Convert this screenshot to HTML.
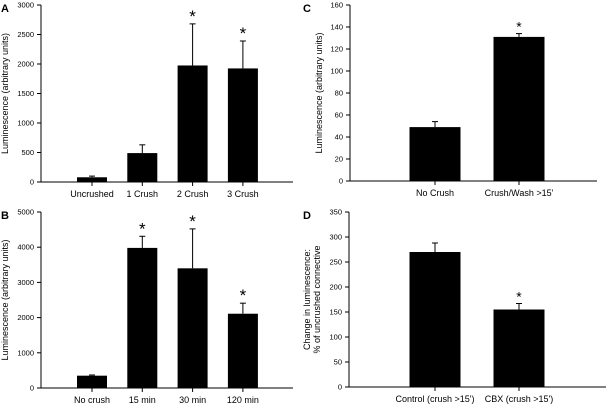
<!DOCTYPE html>
<html><head><meta charset="utf-8"><style>
html,body{margin:0;padding:0;background:#fff}
svg{display:block;font-family:"Liberation Sans",Arial,sans-serif}
</style></head><body>
<svg id="fig" width="608" height="412" viewBox="0 0 608 412" xmlns="http://www.w3.org/2000/svg"></svg>
<script>
// Panel A
const catsA = ["Uncrushed","1 Crush","2 Crush","3 Crush"];
const valsA = [80, 490, 1975, 1925];
const errA = [100, 630, 2680, 2390];
const sigA = [false,false,true,true];
const ticksA = [0,500,1000,1500,2000,2500,3000];
// Panel B
const catsB = ["No crush","15 min","30 min","120 min"];
const valsB = [350, 3980, 3400, 2110];
const errB = [370, 4310, 4520, 2410];
const sigB = [false,true,true,true];
const ticksB = [0,1000,2000,3000,4000,5000];
// Panel C
const catsC = ["No Crush","Crush/Wash >15'"];
const valsC = [49, 131];
const errC = [54, 134];
const sigC = [false,true];
const ticksC = [0,20,40,60,80,100,120,140,160];
// Panel D
const catsD = ["Control (crush >15')","CBX (crush >15')"];
const valsD = [270, 155];
const errD = [288, 167];
const sigD = [false,true];
const ticksD = [0,50,100,150,200,250,300,350];

const NS="http://www.w3.org/2000/svg";
const svg=document.getElementById('fig');
function mk(t,a,p){const e=document.createElementNS(NS,t);for(const k in a)e.setAttribute(k,a[k]);(p||svg).appendChild(e);return e;}

function panel(o){
  const g=mk('g',{});
  
  
  const ymax=o.ticks[o.ticks.length-1];
  const y=v=>o.y0-(v/ymax)*(o.y0-o.y1);
  const ax=mk('path',{d:`M${o.ax} ${o.y1}V${o.y0}H${o.xe}`,stroke:'#000','stroke-width':1,fill:'none'},g);
  
  
  o.ticks.forEach(t=>{
    mk('line',{x1:o.ax-4,x2:o.ax,y1:y(t),y2:y(t),stroke:'#000'},g);
    const tx=mk('text',{x:o.ax-7,y:y(t)+2.5,'font-size':7.5,'text-anchor':'end'},g);
    tx.textContent=t;
    
    
  });
  o.cats.forEach((c,i)=>{
    const cx=o.c0+i*o.dc;
    const v=o.vals[i], e=o.err[i];
    mk('line',{x1:cx,x2:cx,y1:y(e),y2:y(v),stroke:'#000'},g);
    mk('line',{x1:cx-3,x2:cx+3,y1:y(e),y2:y(e),stroke:'#000'},g);
    const b=mk('rect',{x:cx-o.bw/2,y:y(v),width:o.bw,height:o.y0-y(v),fill:'#000'},g);
    
    
    mk('line',{x1:cx,x2:cx,y1:o.y0,y2:o.y0+4,stroke:'#000'},g);
    const lt=mk('text',{x:cx,y:o.y0+15,'font-size':9,'text-anchor':'middle'},g);
    lt.textContent=c;
    
    
    if(o.sig[i]){
      const s=mk('text',{x:cx,y:y(e)-2,'font-size':o.big?17:14,'text-anchor':'middle'},g);
      s.textContent='*';
      
      
    }
  });
  const yt=mk('text',{transform:`translate(${o.tx},${(o.y0+o.y1)/2}) rotate(-90)`,'font-size':9,'text-anchor':'middle'},g);
  o.title.forEach((ln,k)=>{const ts=mk('tspan',{x:0,dy:k?10:0},yt);ts.textContent=ln;});
  
  
  const L=mk('text',{x:o.lx,y:o.y1+7,'font-size':11,'font-weight':'bold'},g);
  L.textContent=o.letter;
  
  
}
panel({letter:'A',cats:catsA,vals:valsA,err:errA,sig:sigA,ticks:ticksA,ax:41,xe:293,y0:182,y1:5,c0:92,dc:50.3,bw:30,tx:8,lx:1,big:true,title:['Luminescence (arbitrary units)']});
panel({letter:'B',cats:catsB,vals:valsB,err:errB,sig:sigB,ticks:ticksB,ax:41,xe:293,y0:388,y1:212,c0:92,dc:50.3,bw:30,tx:8,lx:1,big:true,title:['Luminescence (arbitrary units)']});
panel({letter:'C',cats:catsC,vals:valsC,err:errC,sig:sigC,ticks:ticksC,ax:350,xe:597,y0:181,y1:5,c0:435,dc:84,bw:51,tx:322,lx:303,title:['Luminescence (arbitrary units)']});
panel({letter:'D',cats:catsD,vals:valsD,err:errD,sig:sigD,ticks:ticksD,ax:349,xe:606,y0:387,y1:212,c0:435,dc:84,bw:51,tx:310,lx:303,title:['Change in luminescence:','% of uncrushed connective']});
</script>
</body></html>
